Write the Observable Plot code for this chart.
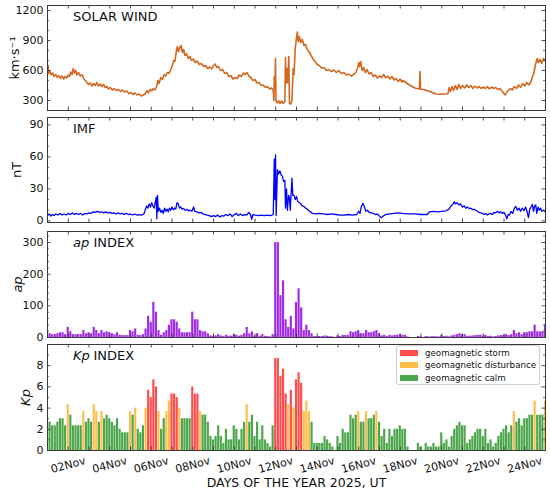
<!DOCTYPE html>
<html><head><meta charset="utf-8">
<script src="https://cdn.jsdelivr.net/npm/d3@7"></script>
<script src="https://cdn.jsdelivr.net/npm/@observablehq/plot@0.6"></script>
<style>
body{margin:0;background:#fff;}
#chart{position:relative;width:550px;height:493px;font-family:"DejaVu Sans",sans-serif;overflow:hidden;}
#chart svg{position:absolute;left:0;}
.legend{position:absolute;left:396px;top:345px;width:144px;height:40px;border:1px solid #d0d0d0;border-radius:3px;background:rgba(255,255,255,0.85);box-sizing:border-box;font-family:"DejaVu Sans",sans-serif;font-size:8.7px;color:#111;}
.legend .row{position:absolute;left:0;height:12px;width:100%;}
.legend .sw{position:absolute;left:3px;top:3px;width:18px;height:6px;}
.legend .lb{position:absolute;left:28px;top:0;line-height:12px;white-space:nowrap;}
</style></head><body><div id="chart"></div>
<script>
// ---------------- DATA ----------------
// Solar wind speed (days since 2025-11-01 00:00 UT, km/s)
const windT = [0.00,0.03,0.06,0.12,0.18,0.25,0.32,0.40,0.47,0.55,0.62,0.70,0.78,0.85,0.92,1.00,1.06,1.12,1.18,1.24,1.30,1.36,1.42,1.50,1.58,1.66,1.74,1.82,1.90,1.98,2.06,2.14,2.22,2.30,2.38,2.46,2.54,2.62,2.70,2.78,2.86,2.94,3.02,3.12,3.22,3.32,3.42,3.52,3.62,3.72,3.82,3.92,4.02,4.12,4.22,4.32,4.42,4.52,4.62,4.72,4.80,4.86,4.94,5.02,5.10,5.18,5.26,5.32,5.38,5.46,5.54,5.62,5.70,5.78,5.86,5.94,6.02,6.08,6.14,6.20,6.26,6.32,6.38,6.44,6.50,6.56,6.62,6.70,6.78,6.86,6.94,7.02,7.12,7.22,7.32,7.42,7.52,7.62,7.72,7.82,7.92,8.00,8.08,8.16,8.24,8.34,8.44,8.54,8.64,8.74,8.84,8.94,9.04,9.14,9.24,9.34,9.44,9.54,9.62,9.70,9.80,9.90,10.00,10.10,10.20,10.30,10.40,10.50,10.60,10.70,10.80,10.88,10.91,10.93,10.96,10.99,11.01,11.08,11.14,11.20,11.28,11.36,11.44,11.47,11.50,11.54,11.58,11.63,11.66,11.72,11.78,11.84,11.88,11.94,12.00,12.04,12.08,12.14,12.20,12.28,12.36,12.44,12.52,12.60,12.68,12.76,12.84,12.92,13.00,13.10,13.20,13.32,13.44,13.56,13.68,13.80,13.92,14.04,14.16,14.28,14.40,14.52,14.64,14.76,14.86,14.94,15.00,15.04,15.10,15.16,15.24,15.32,15.40,15.50,15.60,15.70,15.80,15.90,16.00,16.10,16.20,16.30,16.40,16.50,16.60,16.70,16.80,16.90,17.00,17.08,17.14,17.40,17.70,17.92,17.95,17.98,18.20,18.50,18.72,18.90,19.10,19.30,19.36,19.42,19.50,19.58,19.66,19.74,19.82,19.90,20.00,20.10,20.20,20.30,20.40,20.50,20.60,20.70,20.80,20.90,21.00,21.10,21.20,21.30,21.40,21.50,21.60,21.70,21.80,21.90,22.00,22.06,22.12,22.20,22.30,22.40,22.50,22.60,22.70,22.80,22.90,23.00,23.10,23.20,23.30,23.36,23.42,23.48,23.54,23.60,23.66,23.74,23.82,23.90,24.00];
const windV = [610,650,570,590,555,575,540,560,530,550,520,545,515,540,525,555,540,585,560,620,575,600,555,580,545,560,520,500,480,460,475,445,470,450,480,445,465,440,460,430,440,415,430,405,420,400,410,390,405,385,395,370,380,360,375,355,365,345,355,370,400,375,410,395,420,405,440,500,470,530,510,560,545,580,570,610,650,700,690,780,840,790,830,850,780,810,750,770,720,740,700,715,680,695,660,670,640,650,620,635,615,650,665,630,640,600,610,570,580,540,550,515,530,520,555,540,575,560,580,545,530,500,510,475,480,450,455,430,440,415,425,400,300,540,420,720,290,275,300,270,295,270,290,730,470,620,480,740,270,265,300,620,560,820,930,985,890,940,880,910,850,860,810,790,760,730,700,685,660,650,625,630,600,610,590,605,580,600,570,580,555,565,545,560,580,620,680,640,690,600,630,580,610,565,580,540,555,525,545,530,560,525,545,515,540,505,520,490,515,485,500,460,425,415,590,415,405,385,365,362,365,368,430,390,440,400,450,410,460,420,450,425,455,430,450,420,445,425,440,420,435,420,440,415,435,420,430,410,420,395,370,355,380,400,420,405,440,420,455,430,470,445,480,455,490,530,560,620,680,720,680,710,670,720,690];

// IMF magnitude (days since 2025-11-01 00:00 UT, nT)
const imfT = [0.00,0.08,0.16,0.24,0.32,0.40,0.50,0.60,0.70,0.80,0.90,1.00,1.10,1.20,1.30,1.40,1.50,1.60,1.70,1.80,1.90,2.00,2.10,2.20,2.30,2.40,2.50,2.60,2.70,2.80,2.90,3.00,3.10,3.20,3.30,3.40,3.50,3.60,3.70,3.80,3.90,4.00,4.10,4.20,4.30,4.40,4.50,4.60,4.66,4.72,4.78,4.84,4.90,4.96,5.02,5.08,5.14,5.20,5.24,5.27,5.30,5.34,5.40,5.46,5.52,5.58,5.64,5.70,5.76,5.82,5.88,5.94,6.00,6.06,6.12,6.18,6.24,6.30,6.36,6.42,6.48,6.56,6.64,6.72,6.80,6.88,6.96,7.04,7.10,7.20,7.30,7.40,7.50,7.60,7.70,7.80,7.90,8.00,8.10,8.20,8.30,8.40,8.50,8.60,8.70,8.80,8.90,9.00,9.10,9.20,9.30,9.40,9.50,9.60,9.70,9.78,9.84,9.90,10.00,10.15,10.30,10.45,10.60,10.75,10.88,10.93,10.96,10.99,11.02,11.08,11.14,11.20,11.26,11.32,11.38,11.44,11.47,11.52,11.56,11.62,11.66,11.70,11.78,11.82,11.88,11.94,12.00,12.06,12.12,12.20,12.28,12.36,12.44,12.52,12.60,12.68,12.76,12.90,13.10,13.30,13.50,13.70,13.90,14.10,14.30,14.50,14.70,14.90,15.00,15.06,15.12,15.20,15.26,15.34,15.42,15.50,15.60,15.70,15.80,15.90,16.00,16.08,16.14,16.22,16.30,16.50,16.70,16.90,17.10,17.40,17.70,18.00,18.30,18.40,18.60,18.80,19.00,19.20,19.35,19.45,19.55,19.60,19.66,19.74,19.82,19.90,20.00,20.08,20.16,20.24,20.32,20.40,20.48,20.56,20.64,20.72,20.80,20.88,20.96,21.04,21.12,21.20,21.28,21.36,21.44,21.52,21.60,21.68,21.76,21.84,21.92,22.00,22.08,22.14,22.20,22.26,22.34,22.42,22.50,22.57,22.64,22.72,22.80,22.88,22.96,23.04,23.12,23.18,23.24,23.30,23.37,23.42,23.48,23.53,23.58,23.64,23.70,23.76,23.82,23.90,24.00];
const imfB = [5,6.5,4.5,6,5,6.5,5.5,7,5.5,6.5,5.5,7,6,7.5,6,7,6,7,5.5,7,6.5,7.5,7,8.5,8,9,8,8.5,7.5,8.5,7.5,8,7,7.5,6.5,7.5,6.5,7,6,7,6,6.5,5.5,6.5,5.5,6,5.5,6,7,11,14,12,16,13,17,14,12,18,22,2,24,9,12,8,10,7,12,9,11,8.5,12,10,13,10.5,12,11,17,16,12,13,11,11.5,10,11,9.5,10,9,13,9,8.5,7.5,8,6.5,6,5.5,5,4,5,4,5.5,3.5,5,4.5,6,5,6.5,4,6,7,5,6.5,5,6,5.5,8,6,1.5,6,5.5,5,5.5,5,5.5,5,6,58,20,62,5,48,44,47,43,42,37,38,12,30,10,24,22,10,40,24,24,20,23,18,17.5,16,14,13.5,12,11,9.5,8.5,7,6.5,7,6.5,6,6.5,6,5.5,5.5,6,5.5,6,9,7,13,16.5,14,9,10,8,7.5,7,6,6.5,4.5,3,4,5,6,6.5,7,7.5,7,6.5,6.5,6,6,8.5,9,8.5,9,9.5,11,14,16,18,16,17,15,16,13,14,12,13,11.5,12,10.5,11,10,9,8,7.5,7,6,7,5.5,6.5,7,6,8,7.5,9,7.5,8.5,7,8,5,2,6,5.5,9,7,12,13.5,10,12,9,12,9.5,13,8,3,11,13,15.5,9,14,15,7,13,10,12,9,10,8.5];

// 3-hourly Kp index, 2025-11-01 00 UT ... 2025-11-25 00 UT (8 values per day)
const kp = [
  3.33,2.67,2.33,2.33,2.67,3,3,2.33,   // 01 Nov
  4.33,3.33,2.33,2.33,2.33,2.33,3.67,2.67, // 02
  3,2.67,4.33,3.67,2.67,3.67,3,3.33,   // 03
  3,2.67,2.33,3,2,1.67,1.67,1.67,      // 04
  3.67,3.33,4,2,1.67,2.33,4,5.67,      // 05
  5,6.67,6,3.67,2,3,3.67,4.67,         // 06
  5.33,5.33,5,4,3,3,3,3,               // 07
  6,5.33,5.33,3.67,3.33,3.33,2.67,1.33, // 08
  1,1.33,2.33,1.33,0.67,2,1,1,         // 09
  2.33,2,1,2,2.67,4.33,2.67,3.33,      // 10
  1.33,2.67,1,2.33,1,0.67,0.33,2.33,   // 11
  8.67,8.67,7,7.67,5.33,4.33,5.67,4,   // 12
  6.67,7.33,6.33,3.67,4.67,3.67,2.67,0.67, // 13
  0.67,0.67,0.67,1.33,1,0.67,0.33,0,   // 14
  1.33,0.67,2,1.67,1.67,3.33,3,3.33,   // 15
  3.67,2.67,2.67,3.67,3,3,3.33,3.67,   // 16
  2.67,1.33,2,0.67,2,1.33,2,2,         // 17
  2.33,2,2,0.33,0,0,0,0.67,            // 18
  0.33,0,0.67,0.33,0.33,0.67,0.33,0.33, // 19
  1.67,0.67,1,0.33,1.33,2,2.33,2.67,   // 20
  2.33,2.33,0.67,1,1.33,1.67,2,2,      // 21
  1.33,2,0.67,1,0.33,0.67,1.33,1.67,   // 22
  2,2.33,1.67,2.33,3.67,2.67,3,2.33,   // 23
  3,3,3.33,3.33,4.67,3.33,3.33,3.33,   // 24
  4.67                                  // 25 Nov 00 UT
];
// 3-hourly ap index, same times
const ap = [
  18,12,9,9,12,15,15,9,
  32,18,9,9,9,9,22,12,
  15,12,32,22,12,22,15,18,
  15,12,9,15,7,6,6,6,
  22,18,27,7,6,9,27,67,
  48,111,80,22,7,15,22,39,
  56,56,48,27,15,15,15,15,
  80,56,56,22,18,18,12,5,
  4,5,9,5,3,7,4,4,
  9,7,4,7,12,32,12,18,
  5,12,4,9,4,3,2,9,
  300,300,132,179,56,32,67,27,
  111,154,94,22,39,22,12,3,
  3,3,3,5,4,3,2,0,
  5,3,7,6,6,18,15,18,
  22,12,12,22,15,15,18,22,
  12,5,7,3,7,5,7,7,
  9,7,7,2,0,0,0,3,
  2,0,3,2,2,3,2,2,
  6,3,4,2,5,7,9,12,
  9,9,3,4,5,6,7,7,
  5,7,3,4,2,3,5,6,
  7,9,6,9,22,12,15,9,
  15,15,18,18,39,18,18,18,
  39
];

const kpClasses = ["geomagnetic storm", "geomagnetic disturbance", "geomagnetic calm"];
const kpColors = ["#ff4d4d", "#ffbf4a", "#4ca64c"];

const windTicks = [300, 600, 900, 1200];
const imfTicks = [0, 30, 60, 90];
const apTicks = [0, 100, 200, 300];
const kpTicks = [0, 2, 4, 6, 8];

// ---------------- LAYOUT ----------------
const T0 = Date.UTC(2025, 10, 1);
const DAY = 864e5, HOUR = 36e5;
const toDate = d => new Date(T0 + d * DAY);
const xDomain = [new Date(T0), new Date(T0 + 24 * DAY)];
const W = 550, ML = 47, MR = 5, FW = W - ML - MR;
const INK = "#3a3a3a";
const TXT = "#111";
const FONT = "DejaVu Sans";
const dayTicks = d3.range(1, 24).map(toDate);
const labelTicks = d3.range(1, 24, 2).map(toDate);
const fmtDay = d3.utcFormat("%d%b");

const windRows = windT.map((t, i) => ({t: toDate(t), v: windV[i]}));
const imfRows = imfT.map((t, i) => ({t: toDate(t), b: imfB[i]}));
const idxRows = kp.map((v, i) => ({
  t: T0 + i * 3 * HOUR, kp: v, ap: ap[i],
  cls: v >= 5 ? kpClasses[0] : v >= 3.67 ? kpClasses[1] : kpClasses[2]
}));
const barX1 = d => new Date(d.t - 1.25 * HOUR);
const barX2 = d => new Date(d.t + 1.25 * HOUR);

const chart = document.getElementById("chart");

function panel({top, mt = 5, mb = 3, fh, yDomain, majors, minors, marks, extra = []}) {
  const h = mt + fh + mb;
  const svg = Plot.plot({
    width: W, height: h,
    marginLeft: ML, marginRight: MR, marginTop: mt, marginBottom: mb,
    x: {type: "utc", domain: xDomain, axis: null},
    y: {domain: yDomain, axis: null},
    color: {domain: kpClasses, range: kpColors},
    style: {fontFamily: FONT, fontSize: "11px", color: TXT, background: "transparent", overflow: "visible"},
    marks: [
      ...marks,
      Plot.tickX(dayTicks, {x: d => d, stroke: INK, strokeWidth: 0.9, insetTop: fh - 3.5}),
      Plot.tickX(dayTicks, {x: d => d, stroke: INK, strokeWidth: 0.9, insetBottom: fh - 3.5}),
      Plot.tickY(majors, {y: d => d, stroke: INK, strokeWidth: 0.9, insetRight: FW - 3.5}),
      Plot.tickY(majors, {y: d => d, stroke: INK, strokeWidth: 0.9, insetLeft: FW - 3.5}),
      Plot.tickY(minors, {y: d => d, stroke: INK, strokeWidth: 0.7, insetRight: FW - 2}),
      Plot.tickY(minors, {y: d => d, stroke: INK, strokeWidth: 0.7, insetLeft: FW - 2}),
      Plot.text(majors, {y: d => d, frameAnchor: "left", dx: -4, textAnchor: "end", text: d => String(d), fontSize: 11, fill: TXT}),
      Plot.frame({stroke: INK, strokeWidth: 1}),
      ...extra
    ]
  });
  svg.style.top = top + "px";
  chart.appendChild(svg);
}

function title(str, opts = {}) {
  return Plot.text([str], {frameAnchor: "top-left", dx: 25.5, dy: 15.5, lineAnchor: "bottom", textAnchor: "start", text: d => d, fontSize: 13, fill: TXT, ...opts});
}
function ylabel(str, dx, opts = {}) {
  return Plot.text([str], {frameAnchor: "left", dx, rotate: -90, textAnchor: "middle", lineAnchor: "middle", text: d => d, fontSize: 13, fill: TXT, ...opts});
}

// Panel 1: solar wind
panel({
  top: 0, fh: 105, yDomain: [200, 1250], majors: windTicks,
  minors: d3.range(200, 1250, 100).filter(v => !windTicks.includes(v)),
  marks: [Plot.line(windRows, {x: "t", y: "v", stroke: "#d2691e", strokeWidth: 1.6, strokeLinejoin: "round", clip: true})],
  extra: [title("SOLAR WIND"), ylabel("km·s⁻¹", -33)]
});

// Panel 2: IMF
panel({
  top: 112, fh: 105, yDomain: [-1.5, 97], majors: imfTicks,
  minors: d3.range(10, 97, 10).filter(v => !imfTicks.includes(v)),
  marks: [Plot.line(imfRows, {x: "t", y: "b", stroke: "#0000ff", strokeWidth: 1.3, strokeLinejoin: "round", clip: true})],
  extra: [title("IMF"), ylabel("nT", -31)]
});

// Panel 3: ap
panel({
  top: 226, fh: 106, yDomain: [0, 335], majors: apTicks,
  minors: d3.range(20, 335, 20).filter(v => !apTicks.includes(v)),
  marks: [Plot.rect(idxRows, {x1: barX1, x2: barX2, y1: 0, y2: "ap", fill: "#a12be6", clip: true})],
  extra: [
    title("ap", {fontStyle: "italic"}),
    title("INDEX", {dx: 46}),
    ylabel("ap", -30, {fontStyle: "italic"})
  ]
});

// Panel 4: Kp
panel({
  top: 339, fh: 106, mb: 43, yDomain: [0, 10], majors: kpTicks,
  minors: d3.range(1, 10, 1).filter(v => !kpTicks.includes(v)),
  marks: [Plot.rect(idxRows, {x1: barX1, x2: barX2, y1: 0, y2: "kp", fill: "cls", clip: true})],
  extra: [
    title("Kp", {fontStyle: "italic"}),
    title("INDEX", {dx: 46}),
    ylabel("Kp", -22, {fontStyle: "italic"}),
    Plot.text(labelTicks, {x: d => d, frameAnchor: "bottom", dy: 14.5, rotate: -15, textAnchor: "middle", lineAnchor: "middle", text: d => fmtDay(d), fontSize: 11, fill: TXT}),
    Plot.text(["DAYS OF THE YEAR 2025, UT"], {frameAnchor: "bottom", dy: 32.5, lineAnchor: "middle", textAnchor: "middle", text: d => d, fontSize: 12.5, fill: TXT})
  ]
});

// Legend
const legend = d3.select(chart).append("div").attr("class", "legend");
const rowTops = [0, 12.6, 25.2];
kpClasses.forEach((c, i) => {
  const row = legend.append("div").attr("class", "row").style("top", (rowTops[i] + 0.5) + "px");
  row.append("div").attr("class", "sw").style("background", kpColors[i]);
  row.append("div").attr("class", "lb").text(c);
});
</script></body></html>
